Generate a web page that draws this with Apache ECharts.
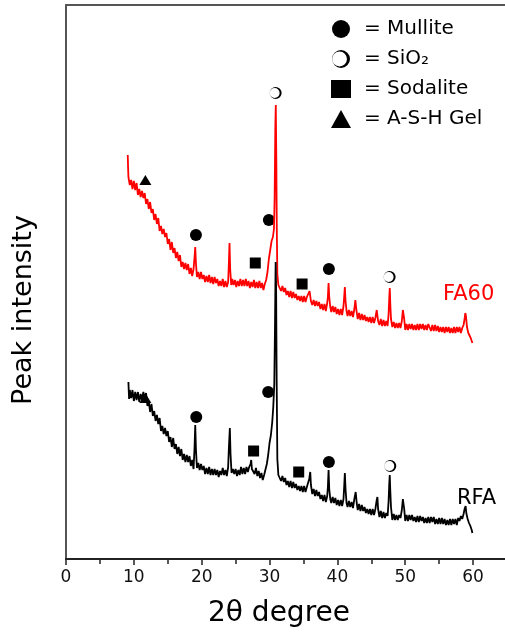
<!DOCTYPE html>
<html>
<head>
<meta charset="utf-8">
<title>XRD</title>
<script src="https://cdn.jsdelivr.net/npm/echarts@6/dist/echarts.min.js"></script>
<style>
  html, body { margin: 0; padding: 0; background: #fff; }
  #main { width: 505px; height: 632px; }
</style>
</head>
<body>
<div id="main"></div>
<script type="text/javascript">
// 2theta (deg), intensity (a.u.)
var fa60 = [
  [9.1,404],[9.15,392],[9.2,382],[9.3,384],[9.4,374],[9.6,379],[9.8,370],[10.0,378],[10.2,369],[10.4,376],
  [10.6,364],[10.8,370],[11.0,362],[11.2,368],[11.4,361],[11.6,366],[11.8,355],[12.0,360],[12.2,350],[12.4,357],
  [12.6,346],[12.8,350],[13.0,339],[13.2,345],[13.4,335],[13.6,341],[13.8,328],[14.0,333],[14.2,325],[14.4,330],
  [14.6,322],[14.8,326],[15.0,315],[15.2,320],[15.4,309],[15.6,317],[15.8,306],[16.0,311],[16.2,301],[16.4,307],
  [16.6,298],[16.8,304],[17.0,292],[17.2,297],[17.4,290],[17.6,296],[17.8,289],[18.0,295],[18.2,285],[18.4,291],
  [18.6,283],[18.8,290],[18.95,302],[19.05,312],[19.15,296],[19.3,282],[19.5,287],[19.7,280],[19.9,287],[20.1,280],
  [20.3,284],[20.5,277],[20.7,283],[20.9,277],[21.1,284],[21.3,276],[21.5,282],[21.7,275],[21.9,282],[22.1,276],
  [22.3,280],[22.5,273],[22.7,278],[22.9,273],[23.1,280],[23.3,272],[23.5,278],[23.7,272],[23.9,277],[24.0,295],
  [24.1,316],[24.2,290],[24.35,274],[24.5,280],[24.7,274],[24.9,279],[25.1,272],[25.3,278],[25.5,273],[25.7,280],
  [25.9,273],[26.1,279],[26.3,273],[26.5,280],[26.7,273],[26.9,278],[27.1,271],[27.3,277],[27.5,272],[27.7,279],
  [27.9,271],[28.1,277],[28.3,271],[28.5,278],[28.7,271],[28.9,276],[29.1,269],[29.3,275],[29.5,279],[29.7,287],
  [29.9,300],[30.1,309],[30.3,318],[30.5,322],[30.65,330],[30.75,360],[30.85,430],[30.92,454],[31.0,400],[31.07,330],
  [31.15,285],[31.3,274],[31.5,275],[31.7,268],[31.9,273],[32.1,267],[32.3,271],[32.5,264],[32.7,268],[32.9,262],
  [33.1,268],[33.3,261],[33.5,267],[33.7,261],[33.9,265],[34.1,259],[34.3,263],[34.5,258],[34.7,263],[34.9,257],
  [35.1,263],[35.3,257],[35.5,262],[35.7,262],[35.9,268],[36.1,258],[36.3,254],[36.5,259],[36.7,253],[36.9,258],
  [37.1,253],[37.3,257],[37.5,250],[37.7,255],[37.9,249],[38.1,255],[38.3,248],[38.5,256],[38.6,262],[38.7,276],
  [38.8,262],[38.95,252],[39.1,247],[39.3,253],[39.5,247],[39.7,252],[39.9,245],[40.1,250],[40.3,244],[40.5,250],
  [40.7,244],[40.9,253],[41.0,262],[41.1,272],[41.2,258],[41.35,248],[41.5,243],[41.7,249],[41.9,243],[42.1,248],
  [42.3,242],[42.5,250],[42.65,259],[42.8,249],[43.0,240],[43.2,246],[43.4,239],[43.6,245],[43.8,239],[44.0,244],
  [44.2,238],[44.4,242],[44.6,237],[44.8,242],[45.0,236],[45.2,242],[45.4,236],[45.6,241],[45.8,249],[45.9,247],
  [46.0,238],[46.2,234],[46.4,240],[46.6,233],[46.8,239],[47.0,233],[47.2,238],[47.4,233],[47.55,245],[47.65,262],
  [47.72,271],[47.8,255],[47.9,240],[48.1,232],[48.3,237],[48.5,231],[48.7,236],[48.9,231],[49.1,236],[49.3,231],
  [49.5,238],[49.65,249],[49.75,251],[49.85,240],[50.0,229],[50.2,235],[50.4,229],[50.6,235],[50.8,230],[51.0,235],
  [51.2,229],[51.4,234],[51.6,229],[51.8,235],[52.0,229],[52.2,235],[52.4,230],[52.6,235],[52.8,229],[53.0,234],
  [53.2,229],[53.4,235],[53.6,236],[53.8,228],[54.0,234],[54.2,228],[54.4,234],[54.6,228],[54.8,233],[55.0,227],
  [55.2,232],[55.4,227],[55.6,232],[55.8,226],[56.0,232],[56.2,227],[56.4,232],[56.6,226],[56.8,231],[57.0,226],
  [57.2,232],[57.4,226],[57.6,232],[57.8,227],[58.0,232],[58.2,226],[58.4,231],[58.6,234],[58.75,240],[58.85,246],
  [58.95,243],[59.1,232],[59.3,226],[59.5,227],[59.65,221],[59.8,222],[59.9,216]
];

var rfa = [
  [9.2,177],[9.25,168],[9.3,160],[9.4,169],[9.6,161],[9.8,169],[10.0,158],[10.2,167],[10.4,159],[10.6,167],
  [10.8,157],[11.0,165],[11.2,159],[11.4,167],[11.6,161],[11.8,166],[12.0,153],[12.2,158],[12.4,147],[12.6,155],
  [12.8,143],[13.0,148],[13.2,138],[13.4,144],[13.6,135],[13.8,141],[14.0,128],[14.2,133],[14.4,125],[14.6,131],
  [14.8,123],[15.0,128],[15.2,117],[15.4,122],[15.6,112],[15.8,121],[16.0,110],[16.2,115],[16.4,105],[16.6,112],
  [16.8,103],[17.0,110],[17.2,99],[17.4,105],[17.6,97],[17.8,104],[18.0,97],[18.2,103],[18.4,93],[18.6,99],
  [18.8,90],[18.95,112],[19.05,134],[19.15,110],[19.3,91],[19.5,96],[19.7,89],[19.9,95],[20.1,89],[20.3,93],
  [20.5,85],[20.7,91],[20.9,85],[21.1,92],[21.3,84],[21.5,90],[21.7,84],[21.9,90],[22.1,84],[22.3,89],
  [22.5,82],[22.7,88],[22.9,84],[23.1,91],[23.3,84],[23.5,89],[23.7,83],[23.9,92],[24.0,110],[24.15,131],
  [24.25,105],[24.4,86],[24.6,90],[24.8,85],[25.0,90],[25.2,83],[25.4,89],[25.6,84],[25.8,92],[26.0,85],
  [26.2,91],[26.4,85],[26.6,92],[26.8,87],[27.0,92],[27.2,95],[27.3,99],[27.4,90],[27.6,91],[27.8,85],
  [28.0,91],[28.2,83],[28.4,88],[28.6,81],[28.8,86],[29.0,79],[29.2,84],[29.4,86],[29.6,95],[29.8,104],
  [30.0,116],[30.2,124],[30.4,137],[30.55,152],[30.7,175],[30.8,230],[30.9,297],[30.97,270],[31.05,180],[31.15,100],
  [31.3,84],[31.5,85],[31.7,78],[31.9,83],[32.1,77],[32.3,81],[32.5,74],[32.7,78],[32.9,72],[33.1,78],
  [33.3,71],[33.5,77],[33.7,71],[33.9,75],[34.1,69],[34.3,73],[34.5,68],[34.7,73],[34.9,67],[35.1,73],
  [35.3,67],[35.5,72],[35.7,73],[35.85,80],[36.0,87],[36.1,74],[36.3,65],[36.5,70],[36.7,63],[36.9,69],
  [37.1,63],[37.3,67],[37.5,60],[37.7,64],[37.9,58],[38.1,64],[38.3,57],[38.5,63],[38.6,72],[38.7,89],
  [38.8,70],[38.95,60],[39.1,56],[39.3,62],[39.5,56],[39.7,61],[39.9,54],[40.1,59],[40.3,53],[40.5,59],
  [40.7,53],[40.9,60],[41.0,72],[41.1,86],[41.2,70],[41.35,56],[41.5,52],[41.7,58],[41.9,52],[42.1,57],
  [42.3,51],[42.5,60],[42.7,67],[42.85,56],[43.0,49],[43.2,55],[43.4,48],[43.6,54],[43.8,48],[44.0,52],
  [44.2,46],[44.4,50],[44.6,45],[44.8,50],[45.0,44],[45.2,50],[45.4,44],[45.6,50],[45.8,59],[45.9,62],
  [46.0,50],[46.2,42],[46.4,48],[46.6,41],[46.8,47],[47.0,41],[47.2,46],[47.4,43],[47.55,58],[47.65,76],
  [47.72,84],[47.8,68],[47.9,52],[48.1,39],[48.3,45],[48.5,39],[48.7,44],[48.9,39],[49.1,44],[49.3,41],
  [49.5,49],[49.65,60],[49.75,62],[49.85,50],[50.0,38],[50.2,44],[50.4,38],[50.6,44],[50.8,39],[51.0,44],
  [51.2,38],[51.4,42],[51.6,37],[51.8,43],[52.0,37],[52.2,43],[52.4,38],[52.6,42],[52.8,36],[53.0,41],
  [53.2,36],[53.4,42],[53.6,36],[53.8,42],[54.0,37],[54.2,42],[54.4,35],[54.6,40],[54.8,35],[55.0,41],
  [55.2,35],[55.4,41],[55.6,35],[55.8,40],[56.0,34],[56.2,39],[56.4,34],[56.6,40],[56.8,34],[57.0,40],
  [57.2,35],[57.4,40],[57.6,34],[57.8,41],[58.0,38],[58.2,43],[58.4,40],[58.6,45],[58.75,50],[58.9,53],
  [59.0,46],[59.2,40],[59.4,36],[59.6,33],[59.8,29],[59.9,26]
];

// phase markers [2theta, height]
var mullitePts = [[19.15,324],[29.9,339],[38.75,290],[19.2,142],[29.8,167],[38.75,97]];
var sio2Pts = [[30.9,466],[47.7,282],[47.8,93]];
var sodalitePts = [[27.9,296],[34.8,275],[27.65,108],[34.3,87]];
var gelPts = [[11.7,379],[11.7,161]];

var xTicks = [0, 10, 20, 30, 40, 50, 60];

var sio2Symbol = 'path://M10,0A10,10,0,1,1,10,20A10,10,0,1,1,10,0ZM8.4,1.8A8.2,8.2,0,1,0,8.4,18.2A8.2,8.2,0,1,0,8.4,1.8Z';
var font = 'DejaVu Sans';

var myChart = echarts.init(document.getElementById('main'));

var option = {
  animation: false,
  backgroundColor: '#fff',
  grid: {
    left: 66, top: 5, width: 441, height: 554,
    outerBoundsMode: 'none'
  },
  legend: {
    orient: 'vertical',
    left: 326, top: 14,
    itemWidth: 20, itemHeight: 18, itemGap: 10,
    data: ['Mullite', 'SiO₂', 'Sodalite', 'A-S-H Gel'],
    formatter: function (n) { return '= ' + n; },
    textStyle: { fontFamily: font, fontSize: 20, color: '#000', padding: [0, 0, 0, 8] }
  },
  xAxis: [{
    type: 'value', min: 0, max: 65, interval: 10,
    axisLine: { lineStyle: { color: '#222', width: 2 } },
    axisTick: { length: 6, lineStyle: { color: '#222', width: 1.5 } },
    minorTick: { show: true, splitNumber: 2, length: 5, lineStyle: { color: '#222', width: 1.5 } },
    splitLine: { show: false },
    axisLabel: {
      margin: 10, fontFamily: font, fontSize: 17, color: '#111',
      formatter: function (v) { return xTicks.indexOf(v) >= 0 ? String(v) : ''; }
    }
  }, {
    type: 'value', position: 'top', min: 0, max: 65,
    axisLine: { lineStyle: { color: '#555', width: 2 } },
    axisTick: { show: false }, axisLabel: { show: false }, splitLine: { show: false }
  }],
  yAxis: {
    type: 'value', min: 0, max: 554,
    axisLine: { show: true, lineStyle: { color: '#555', width: 2 } },
    axisTick: { show: false },
    axisLabel: { show: false }, splitLine: { show: false }
  },
  graphic: [
    { type: 'text', x: 24, y: 310, rotation: Math.PI / 2,
      style: { text: 'Peak intensity', font: '27px "DejaVu Sans"', fill: '#000', align: 'center', verticalAlign: 'middle' } },
    { type: 'text', x: 279, y: 614,
      style: { text: '2θ degree', font: '28px "DejaVu Sans"', fill: '#000', align: 'center', verticalAlign: 'middle' } },
    { type: 'text', x: 443, y: 295,
      style: { text: 'FA60', font: '21px "DejaVu Sans"', fill: '#ff0000', align: 'left', verticalAlign: 'middle' } },
    { type: 'text', x: 457, y: 499,
      style: { text: 'RFA', font: '21px "DejaVu Sans"', fill: '#000', align: 'left', verticalAlign: 'middle' } }
  ],
  series: [
    { name: 'FA60', type: 'line', data: fa60, showSymbol: false, lineStyle: { color: '#ff0000', width: 1.8 } },
    { name: 'RFA', type: 'line', data: rfa, showSymbol: false, lineStyle: { color: '#000', width: 1.8 } },
    { name: 'Mullite', type: 'scatter', data: mullitePts, symbol: 'circle', symbolSize: 12,
      itemStyle: { color: '#000', opacity: 1 } },
    { name: 'SiO₂', type: 'scatter', data: sio2Pts, symbol: sio2Symbol, symbolSize: 12, symbolKeepAspect: true,
      itemStyle: { color: '#000', opacity: 1 } },
    { name: 'Sodalite', type: 'scatter', data: sodalitePts, symbol: 'rect', symbolSize: 11,
      itemStyle: { color: '#000', opacity: 1 } },
    { name: 'A-S-H Gel', type: 'scatter', data: gelPts, symbol: 'triangle', symbolSize: [12, 10],
      itemStyle: { color: '#000', opacity: 1 } }
  ]
};

myChart.setOption(option);
</script>
</body>
</html>
